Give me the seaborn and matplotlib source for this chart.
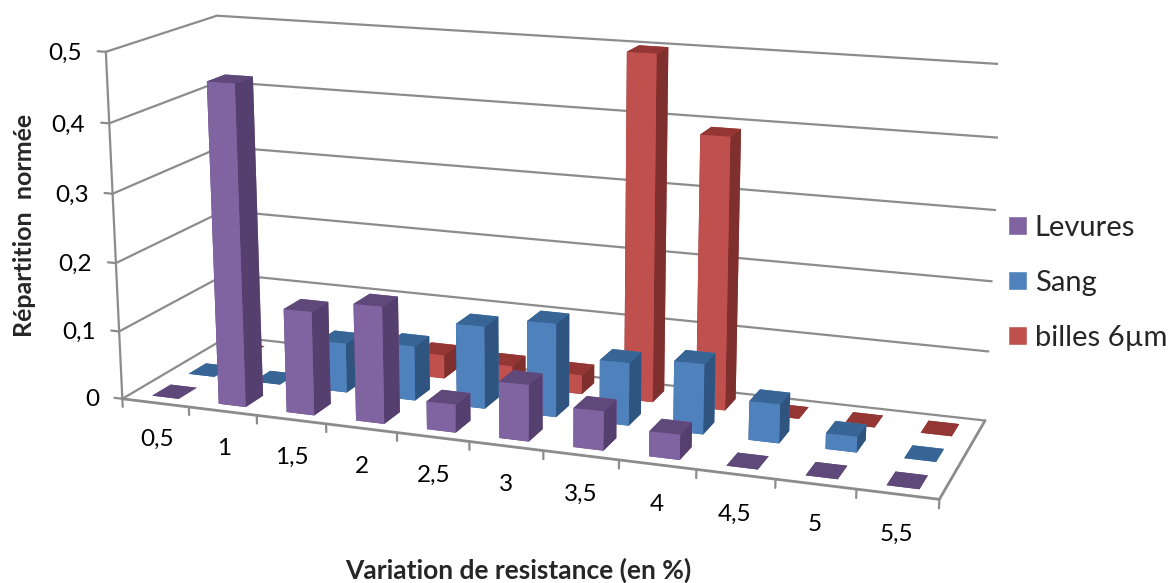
import numpy as np
import matplotlib
matplotlib.use("Agg")
import matplotlib.pyplot as plt
import seaborn as sns
from matplotlib.patches import Patch
from mpl_toolkits.mplot3d import Axes3D, proj3d

categories = ["0,5", "1", "1,5", "2", "2,5", "3", "3,5", "4", "4,5", "5", "5,5"]
levures = [0, 0.463, 0.15, 0.168, 0.04, 0.08, 0.055, 0.035, 0, 0, 0]
sang = [0, 0, 0.073, 0.08, 0.12, 0.135, 0.09, 0.10, 0.055, 0.022, 0]
billes = [0, 0, 0, 0.035, 0.03, 0.028, 0.5, 0.392, 0, 0, 0]
z_ticks = [0, 0.1, 0.2, 0.3, 0.4, 0.5]
z_labels = ["0", "0,1", "0,2", "0,3", "0,4", "0,5"]
series = ["Levures", "Sang", "billes 6µm"]

sns.set_theme(style="white")
plt.rcParams["font.family"] = ["Lato", "DejaVu Sans"]

W, H = 1171, 583
fig = plt.figure(figsize=(W / 100, H / 100), dpi=100)
ax = fig.add_subplot(projection="3d")
n = len(categories)
ax.set_xlim(0, n, view_margin=0)
ax.set_ylim(0, 3, view_margin=0)
ax.set_zlim(0, 0.5, view_margin=0)
ax.set_xticks([])
ax.set_yticks([])
ax.set_zticks([])
ax.set_axis_off()

# camera calee sur les reperes de l'image d'origine
ax.view_init(14.568, -69.892, 0.038)
ax.set_proj_type("persp", focal_length=0.479)
ax.set_box_aspect((2.34, 0.649, 1))
ax.set_position([0.0616, -0.22211, 0.79064, 1.58806])
ax.computed_zorder = False

# murs et plancher
grid_col = "#8c8c8c"
for z in z_ticks:
    ax.plot([0, 0, n], [0, 3, 3], [z, z, z], color=grid_col, lw=1.6, zorder=1)
    ax.plot([-0.12, 0], [0, 0], [z, z], color=grid_col, lw=1.6, zorder=1)
ax.plot([0, 0], [0, 0], [0, 0.5], color=grid_col, lw=1.6, zorder=1)
ax.plot([0, n, n], [0, 0, 3], [0, 0, 0], color=grid_col, lw=2, zorder=1)
for k in range(n + 1):
    ax.plot([k, k], [0, 0], [0, -0.012], color=grid_col, lw=1.6, zorder=1)

# barres, du fond vers l'avant
front = sns.color_palette(["#8064A2", "#4F81BD", "#C0504D"])
side = sns.color_palette(["#553F6E", "#2F5480", "#7F2F2D"])
top = sns.color_palette(["#5F497A", "#376595", "#943634"])
bar_w, bar_d = 0.40, 0.5
order = 10
for row in (2, 1, 0):
    vals = [levures, sang, billes][row]
    for k in range(n):
        # faces: dessous, dessus, avant, arriere, gauche, droite
        cols = [top[row], top[row], front[row], front[row], side[row], side[row]]
        ax.bar3d(k + 0.51 - bar_w / 2, row + 0.5 - bar_d / 2, 0, bar_w, bar_d, vals[k],
                 color=cols, shade=False, linewidth=0, zorder=order)
        order += 1


def label(x, y, z, txt, **kw):
    x2, y2, _ = proj3d.proj_transform(x, y, z, ax.get_proj())
    ax.text2D(x2, y2, txt, transform=ax.transData, va="center", fontsize=17.5, color="black", **kw)


for k, lab in enumerate(categories):
    label(k + 0.5, 0, -0.055, lab, ha="center")
for z, lab in zip(z_ticks, z_labels):
    label(-0.36, 0, z - 0.005, lab, ha="right")

fig.text(518 / W, 1 - 570 / H, "Variation de resistance (en %)", ha="center", va="center", fontsize=19, fontweight="bold")
fig.text(25 / W, 1 - 225 / H, "Répartition  normée", ha="center", va="center", rotation=90, fontsize=18, fontweight="bold")

handles = [Patch(facecolor=c) for c in front]
fig.legend(handles, series, loc="center left", bbox_to_anchor=(1008 / W, 1 - 283 / H), frameon=False, fontsize=21,
           handlelength=0.65, handleheight=0.62, handletextpad=0.26, labelspacing=1.0, borderpad=0, borderaxespad=0)

plt.savefig("out.png", dpi=100)
